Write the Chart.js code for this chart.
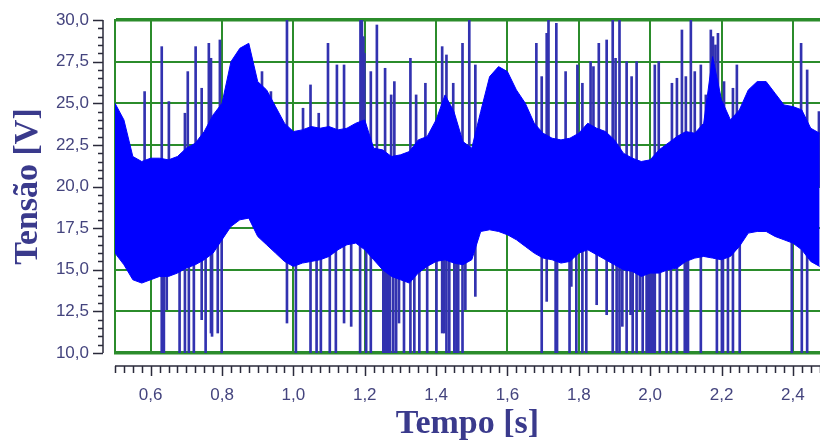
<!DOCTYPE html>
<html>
<head>
<meta charset="utf-8">
<script src="https://cdn.jsdelivr.net/npm/chart.js@4/dist/chart.umd.min.js"></script>
<style>
  body { margin: 0; background: #fff; }
  canvas { display: block; }
</style>
</head>
<body>
<canvas id="sinal" width="820" height="441"></canvas>
<script>
// envelope of the dense signal, read every 0.025 s
var envTime = [0.500,0.525,0.550,0.575,0.600,0.625,0.650,0.675,0.700,0.725,
               0.750,0.775,0.800,0.825,0.850,0.875,0.900,0.925,0.950,0.975,
               1.000,1.025,1.050,1.075,1.100,1.125,1.150,1.175,1.200,1.225,
               1.250,1.275,1.300,1.325,1.350,1.375,1.400,1.425,1.450,1.475,
               1.500,1.525,1.550,1.575,1.600,1.625,1.650,1.675,1.700,1.725,
               1.750,1.775,1.800,1.825,1.850,1.875,1.900,1.925,1.950,1.975,
               2.000,2.025,2.050,2.075,2.100,2.125,2.150,2.175,2.200,2.225,
               2.250,2.275,2.300,2.325,2.350,2.375,2.400,2.425,2.450,2.475];
var envUpper = [25.0,24.0,21.8,21.5,21.7,21.7,21.6,21.8,22.3,22.6,
                23.3,24.3,25.0,27.5,28.3,28.6,26.3,25.8,24.8,23.8,
                23.3,23.4,23.6,23.5,23.6,23.4,23.5,23.8,24.0,22.3,
                22.2,21.8,21.9,22.1,22.8,23.0,24.0,25.5,24.5,22.7,
                22.3,24.5,26.6,27.2,26.9,25.8,25.0,23.8,23.2,22.9,
                22.8,22.9,23.2,23.8,23.5,23.3,22.8,22.0,21.7,21.5,
                21.6,22.2,22.6,23.0,23.3,23.2,23.8,27.8,25.2,24.0,
                24.6,25.8,26.3,26.3,25.6,24.9,24.8,24.6,23.5,23.2];
var envLower = [16.0,15.3,14.4,14.2,14.4,14.6,14.6,14.8,15.1,15.3,
                15.6,16.0,16.8,17.6,18.0,18.1,17.0,16.5,16.0,15.5,
                15.2,15.4,15.5,15.6,15.8,16.2,16.5,16.6,16.2,15.6,
                15.0,14.6,14.4,14.2,14.8,15.2,15.5,15.6,15.4,15.3,
                15.6,17.3,17.4,17.3,17.1,16.8,16.4,16.0,15.7,15.6,
                15.4,15.5,16.0,16.2,15.9,15.6,15.3,15.0,14.9,14.6,
                14.8,14.8,15.0,15.1,15.5,15.7,15.8,15.7,15.6,15.8,
                16.4,17.2,17.3,17.3,17.0,16.8,16.6,16.2,15.5,15.2];

// spikes above the band
var upSpikeTime = [0.583,0.631,0.651,0.696,0.704,0.726,0.743,0.763,0.769,0.794,
                   0.808,0.912,0.937,0.982,1.027,1.048,1.071,1.097,1.122,1.142,
                   1.188,1.192,1.196,1.199,1.217,1.234,1.257,1.274,1.283,1.328,
                   1.344,1.370,1.417,1.429,1.448,1.474,1.493,1.510,1.681,1.696,
                   1.710,1.715,1.737,1.763,1.796,1.810,1.833,1.841,1.856,1.878,
                   1.895,1.903,1.914,1.934,1.948,1.962,2.013,2.024,2.061,2.075,
                   2.089,2.100,2.114,2.125,2.142,2.156,2.170,2.176,2.183,2.190,
                   2.207,2.232,2.243,2.423,2.440,2.473];
var upSpikeTop = [25.7,28.4,25.1,24.4,26.9,28.4,25.9,28.6,27.7,28.8,
                  25.3,26.9,25.7,30.0,24.7,26.1,24.4,28.6,27.3,27.3,
                  30.0,30.0,29.0,28.0,26.9,29.7,27.1,25.5,26.3,27.7,
                  25.5,26.2,28.4,27.9,26.2,28.6,30.0,27.3,28.6,26.6,
                  29.2,30.0,29.8,26.9,27.3,26.2,27.5,27.2,28.6,28.8,
                  30.0,27.7,30.0,27.5,26.6,27.5,27.3,27.5,26.2,26.5,
                  29.4,26.6,30.0,26.9,27.3,25.5,29.4,29.0,28.5,29.2,
                  26.3,25.9,27.3,28.6,27.0,24.5];

// spikes below the band
var downSpikeTime = [0.631,0.637,0.645,0.681,0.696,0.707,0.721,0.743,0.754,0.769,
                     0.772,0.788,0.799,0.982,1.007,1.048,1.065,1.077,1.102,1.119,
                     1.142,1.162,1.187,1.204,1.217,1.252,1.256,1.260,1.264,1.268,
                     1.271,1.280,1.288,1.296,1.310,1.328,1.339,1.353,1.375,1.401,
                     1.417,1.423,1.429,1.437,1.451,1.457,1.462,1.474,1.482,1.510,
                     1.696,1.710,1.735,1.739,1.774,1.779,1.793,1.810,1.821,1.850,
                     1.878,1.895,1.906,1.914,1.922,1.934,1.945,1.951,1.962,1.971,
                     1.979,1.990,1.994,1.999,2.003,2.007,2.013,2.027,2.046,2.058,
                     2.075,2.097,2.100,2.106,2.142,2.187,2.201,2.204,2.218,2.232,
                     2.251,2.397,2.425,2.440];
var downSpikeBottom = [10,10,12.6,10,10,10,10,12.0,10,11.2,
                       11.0,11.2,10,11.8,10,10,10,10,10,10,
                       11.8,11.6,10,10,10,10,10,10,10,10,
                       10,10,10,11.8,10,10,10,10,10,10,
                       11.2,11.2,10,10,10,10,10,10,12.6,13.4,
                       10,13.1,10,10,10,14.0,10,10,10,12.9,
                       12.3,10,10,10,11.6,10,12.3,10,10,12.6,
                       10,10,10,10,10,10,10,10,10,10,
                       10,10,10,10,10,10,10,10,10,10,
                       10,10,10,10];

var xTicks = [0.6, 0.8, 1.0, 1.2, 1.4, 1.6, 1.8, 2.0, 2.2, 2.4];
var yTicks = [10, 12.5, 15, 17.5, 20, 22.5, 25, 27.5, 30];

var verde = '#2b8c2b';
var azul = '#0000ff';
var marinho = '#3232b0';
var textoEixo = '#44447e';
var titulo = '#3a3a8c';
var invisivel = 'rgba(0,0,0,0)';

function virgula(v) {
    return v.toFixed(1).replace('.', ',');
}

function pontos(xs, ys) {
    var out = [];
    for (var i = 0; i < xs.length; i++) out.push({x: xs[i], y: ys[i]});
    return out;
}

function barras(xs, ends, base) {
    var out = [];
    for (var i = 0; i < xs.length; i++) {
        out.push({x: xs[i], y: ends[i] > base ? [base, ends[i]] : [ends[i], base]});
    }
    return out;
}

// separate axis lines with minor ticks, like the original scope plot
var eixos = {
    id: 'eixos',
    afterDraw: function(chart) {
        var ctx = chart.ctx, a = chart.chartArea;
        var x = chart.scales.x, y = chart.scales.y;
        ctx.save();
        ctx.strokeStyle = '#2a2a3a';
        ctx.lineWidth = 1.5;
        ctx.beginPath();
        var ax = a.left - 12;
        ctx.moveTo(ax, y.getPixelForValue(30));
        ctx.lineTo(ax, y.getPixelForValue(10));
        for (var i = 0; i <= 40; i++) {
            var v = 10 + i * 0.5;
            var py = Math.round(y.getPixelForValue(v)) + 0.5;
            ctx.moveTo(ax, py);
            ctx.lineTo(ax - (i % 5 === 0 ? 10 : 5), py);
        }
        var ay = a.bottom + 13;
        ctx.moveTo(a.left, ay);
        ctx.lineTo(a.right, ay);
        for (var j = 0; ; j++) {
            var t = 0.5 + j * 0.025;
            if (t > x.max) break;
            var px = Math.round(x.getPixelForValue(t)) + 0.5;
            ctx.moveTo(px, ay);
            ctx.lineTo(px, ay + ((j - 4) % 8 === 0 ? 10 : 7));
        }
        ctx.stroke();
        ctx.restore();
    }
};

new Chart(document.getElementById('sinal'), {
    type: 'line',
    data: {
        datasets: [{
            data: pontos(envTime, envUpper),
            borderColor: azul,
            backgroundColor: azul,
            borderWidth: 1,
            pointRadius: 0,
            fill: '+1',
            order: 0
        }, {
            data: pontos(envTime, envLower),
            borderColor: azul,
            borderWidth: 1,
            pointRadius: 0,
            fill: false,
            order: 0
        }, {
            type: 'bar',
            data: barras(upSpikeTime, upSpikeTop, 20),
            backgroundColor: marinho,
            barThickness: 2,
            grouped: false,
            order: 1
        }, {
            type: 'bar',
            data: barras(downSpikeTime, downSpikeBottom, 20),
            backgroundColor: marinho,
            barThickness: 2,
            grouped: false,
            order: 1
        }]
    },
    options: {
        responsive: false,
        animation: false,
        layout: { padding: { top: 20, right: 0, bottom: 0, left: 0 } },
        plugins: {
            legend: { display: false },
            tooltip: { enabled: false }
        },
        scales: {
            x: {
                type: 'linear',
                min: 0.5,
                max: 2.476,
                offset: false,
                afterFit: function(s) { s.height = 88; },
                afterBuildTicks: function(s) {
                    s.ticks = xTicks.map(function(v) { return {value: v}; });
                },
                grid: { color: verde, lineWidth: 2, offset: false,
                        drawTicks: true, tickLength: 30, tickColor: invisivel },
                border: { display: false },
                ticks: {
                    padding: 2,
                    maxRotation: 0,
                    autoSkip: false,
                    color: textoEixo,
                    font: { family: 'Liberation Sans', size: 17 },
                    callback: function(v) { return virgula(v); }
                },
                title: {
                    display: true,
                    text: 'Tempo [s]',
                    color: titulo,
                    padding: { top: 0, bottom: 0 },
                    font: { family: 'Liberation Serif', size: 34, weight: 'bold', lineHeight: 1 }
                }
            },
            y: {
                min: 10,
                max: 30,
                afterFit: function(s) { s.width = 115; },
                afterBuildTicks: function(s) {
                    s.ticks = yTicks.map(function(v) { return {value: v}; });
                },
                grid: {
                    color: verde,
                    drawTicks: true,
                    tickLength: 24,
                    tickColor: invisivel,
                    lineWidth: function(c) {
                        return (c.tick && (c.tick.value === 10 || c.tick.value === 30)) ? 3.5 : 2;
                    }
                },
                border: { display: true, color: verde, width: 2 },
                ticks: {
                    padding: 2,
                    color: textoEixo,
                    font: { family: 'Liberation Sans', size: 17 },
                    callback: function(v) { return virgula(v); }
                },
                title: {
                    display: true,
                    text: 'Tensão [V]',
                    color: titulo,
                    padding: { top: 11, bottom: 0 },
                    font: { family: 'Liberation Serif', size: 34, weight: 'bold', lineHeight: 1 }
                }
            }
        }
    },
    plugins: [eixos]
});
</script>
</body>
</html>
